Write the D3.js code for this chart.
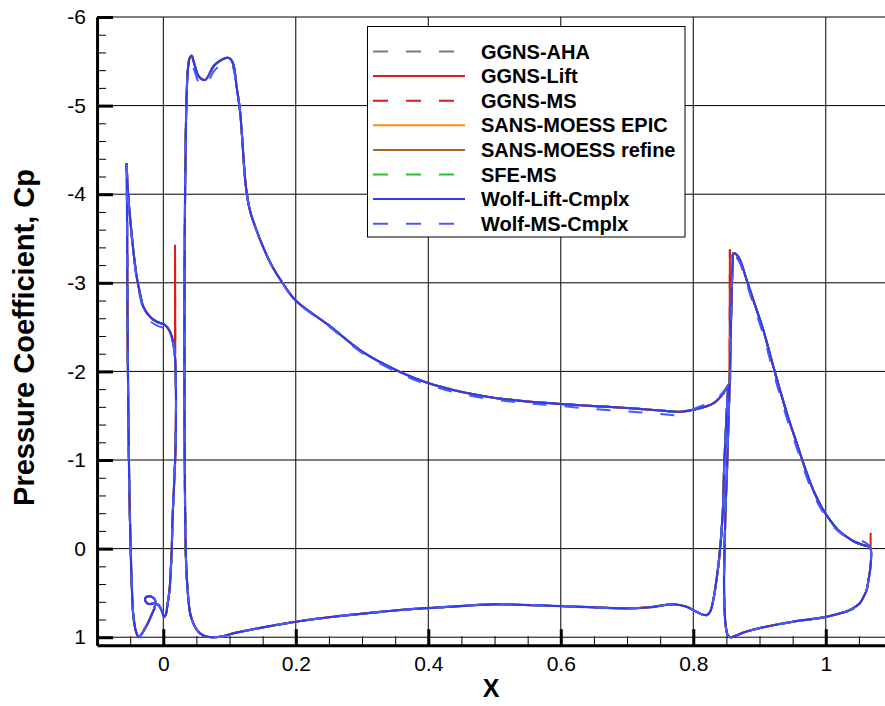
<!DOCTYPE html>
<html>
<head>
<meta charset="utf-8">
<script src="https://cdn.jsdelivr.net/npm/d3@7"></script>
<style>
  body { margin: 0; background: #fff; }
  text { font-family: "Liberation Sans", Arial, sans-serif; }
</style>
</head>
<body>
<script>
// surface pressure on the three elements (x/c, Cp)
const slatUpper = [
  [-0.0552,-4.349],[-0.0540,-4.104],[-0.0503,-3.746],[-0.0453,-3.370],[-0.0402,-3.069],
  [-0.0352,-2.881],[-0.0302,-2.730],[-0.0201,-2.617],[-0.0100,-2.561],[0.0026,-2.524],
  [0.0101,-2.448],[0.0151,-2.317],[0.0177,-2.166],[0.0192,-1.677]
];
const slatLower = [
  [0.0192,-1.677],[0.0184,-1.113],[0.0139,-0.323],[0.0127,0.016],[0.0109,0.298],[0.0094,0.467],
  [0.0063,0.636],[0.0041,0.738],[0.0011,0.772],[-0.0012,0.722],[-0.0050,0.659],[-0.0095,0.625],
  [-0.0155,0.620],[-0.0216,0.625],[-0.0261,0.603],[-0.0276,0.569],[-0.0246,0.541],[-0.0186,0.541],
  [-0.0133,0.569],[-0.0118,0.614],[-0.0133,0.670],[-0.0178,0.749],[-0.0231,0.840],[-0.0291,0.919],
  [-0.0337,0.975],[-0.0374,0.998],[-0.0405,0.953],[-0.0450,0.772],[-0.0477,0.388],[-0.0492,0.016],
  [-0.0510,-0.549],[-0.0525,-1.339],[-0.0537,-2.242],[-0.0545,-3.370],[-0.0549,-4.047],[-0.0552,-4.349]
];
const mainUpper = [
  [0.8528,-1.848],[0.8453,-1.753],[0.8302,-1.640],[0.8051,-1.576],[0.7799,-1.545],[0.7497,-1.559],
  [0.6999,-1.587],[0.6501,-1.609],[0.6003,-1.632],[0.5505,-1.660],[0.5007,-1.700],[0.4509,-1.768],
  [0.3995,-1.870],[0.3573,-1.994],[0.2999,-2.225],[0.2516,-2.510],[0.1998,-2.800],[0.1807,-2.990],
  [0.1641,-3.190],[0.1509,-3.400],[0.1399,-3.610],[0.1309,-3.814],[0.1248,-4.077],[0.1158,-4.942],
  [0.1108,-5.205],[0.1057,-5.466],[0.1014,-5.526],[0.0972,-5.541],[0.0886,-5.520],[0.0765,-5.450],
  [0.0629,-5.289],[0.0539,-5.326],[0.0463,-5.484],[0.0429,-5.563],[0.0395,-5.529],[0.0365,-5.337],
  [0.0343,-4.837],[0.0328,-3.934],[0.0320,-2.806],[0.0320,-1.677],[0.0328,-0.548],[0.0343,0.129],
  [0.0373,0.524],[0.0411,0.750],[0.0479,0.884],[0.0554,0.956],[0.0645,0.992],[0.0755,1.001]
];
const mainLower = [
  [0.0755,1.001],[0.0886,0.992],[0.1057,0.956],[0.1561,0.881],[0.1998,0.825],[0.2566,0.769],
  [0.3070,0.730],[0.3573,0.693],[0.4328,0.656],[0.5007,0.629],[0.6003,0.648],[0.6995,0.674],
  [0.7346,0.662],[0.7698,0.629],[0.7889,0.654],[0.8000,0.693],[0.8101,0.733],[0.8202,0.750],
  [0.8252,0.716],[0.8302,0.581],[0.8350,0.355],[0.8396,0.073],[0.8444,-0.398],[0.8468,-0.963],
  [0.8504,-1.527],[0.8528,-1.848]
];
const flapUpper = [
  [0.8570,1.003],[0.8525,0.986],[0.8494,0.896],[0.8472,0.693],[0.8464,0.355],[0.8472,0.016],
  [0.8487,-0.436],[0.8509,-0.887],[0.8532,-1.452],[0.8555,-2.016],[0.8570,-2.581],[0.8585,-3.032],
  [0.8595,-3.235],[0.8604,-3.333],[0.8652,-3.319],[0.8705,-3.257],[0.8806,-3.032],[0.8931,-2.750],
  [0.9057,-2.467],[0.9181,-2.129],[0.9309,-1.790],[0.9430,-1.485],[0.9561,-1.192],[0.9686,-0.910],
  [0.9811,-0.661],[0.9935,-0.470],[1.0063,-0.323],[1.0184,-0.210],[1.0315,-0.134],[1.0441,-0.075],
  [1.0566,-0.041],[1.0667,-0.022]
];
const flapLower = [
  [1.0667,-0.022],[1.0682,0.016],[1.0675,0.204],[1.0645,0.354],[1.0617,0.467],[1.0562,0.557],
  [1.0517,0.614],[1.0441,0.659],[1.0366,0.693],[1.0013,0.769],[0.9505,0.825],[0.9007,0.896],
  [0.8781,0.941],[0.8645,0.981],[0.8570,1.003]
];

// Wolf-MS-Cmplx differs a little on the upper surfaces
const wolfMsSlatUpper = [
  [-0.0552,-4.33],[-0.0540,-4.08],[-0.0503,-3.72],[-0.0450,-3.33],[-0.0400,-3.03],[-0.0350,-2.84],
  [-0.0300,-2.70],[-0.0200,-2.57],[-0.0100,-2.52],[0.0026,-2.48],[0.0101,-2.42],[0.0151,-2.30],
  [0.0177,-2.15],[0.0192,-1.677]
];
const wolfMsMainUpper = [
  [0.8528,-1.848],[0.8453,-1.77],[0.8302,-1.665],[0.8051,-1.59],[0.7799,-1.51],[0.7497,-1.52],
  [0.6999,-1.55],[0.6501,-1.575],[0.6003,-1.61],[0.5505,-1.64],[0.5007,-1.68],[0.4509,-1.745],
  [0.3995,-1.85],[0.3573,-1.975],[0.2999,-2.21],[0.2516,-2.50],[0.1998,-2.795],[0.1807,-2.99],
  [0.1641,-3.19],[0.1509,-3.40],[0.1399,-3.61],[0.1309,-3.814],[0.1248,-4.077],[0.1158,-4.93],
  [0.1108,-5.18],[0.1057,-5.42],[0.1014,-5.475],[0.0972,-5.49],[0.0886,-5.47],[0.0765,-5.39],
  [0.0629,-5.22],[0.0539,-5.26],[0.0463,-5.41],[0.0429,-5.47],[0.0395,-5.45],[0.0365,-5.30],
  [0.0343,-4.837],[0.0328,-3.934],[0.0320,-2.806],[0.0320,-1.677],[0.0328,-0.548],[0.0343,0.129],
  [0.0373,0.524],[0.0411,0.750],[0.0479,0.884],[0.0554,0.956],[0.0645,0.992],[0.0755,1.001]
];
const wolfMsFlapUpper = [
  [0.8570,1.003],[0.8525,0.986],[0.8494,0.896],[0.8472,0.693],[0.8464,0.355],[0.8472,0.016],
  [0.8487,-0.436],[0.8509,-0.887],[0.8532,-1.452],[0.8555,-2.016],[0.8570,-2.581],[0.8585,-3.00],
  [0.8595,-3.20],[0.8604,-3.27],[0.8652,-3.28],[0.8705,-3.22],[0.8806,-2.99],[0.8931,-2.70],
  [0.9057,-2.41],[0.9181,-2.07],[0.9309,-1.73],[0.9430,-1.43],[0.9561,-1.14],[0.9686,-0.86],
  [0.9811,-0.62],[0.9935,-0.44],[1.0063,-0.30],[1.0184,-0.20],[1.0315,-0.13],[1.0441,-0.10],
  [1.0566,-0.08],[1.0667,-0.03]
];

// trailing-edge spikes seen on some solutions
const ggnsSlatSpike = [[0.0177,-2.17],[0.0177,-3.42],[0.0181,-2.2]];
const ggnsMainSpike = [[0.8548,-1.85],[0.8552,-3.37],[0.8556,-1.9]];
const ggnsFlapSpike = [[1.0677,-0.02],[1.0677,-0.20]];
const sansEpicSpike = [[0.8548,-1.85],[0.8552,-2.40],[0.8556,-1.9]];
const sansRefineSpike = [[0.8548,-1.85],[0.8552,-2.32],[0.8556,-1.9]];

const seriesNames = ['GGNS-AHA','GGNS-Lift','GGNS-MS','SANS-MOESS EPIC','SANS-MOESS refine','SFE-MS','Wolf-Lift-Cmplx','Wolf-MS-Cmplx'];
const seriesColors = ['#7a7a7a','#d81c1c','#d81c1c','#ff8c1a','#b0621e','#1ec81e','#2b3cf2','#4a58ff'];
const seriesDashed = [true,false,true,false,false,true,false,true];

const base = [slatUpper, slatLower, mainUpper, mainLower, flapUpper, flapLower];
const seriesCurves = [
  base,
  base,
  base,
  base,
  base,
  base,
  base,
  [wolfMsSlatUpper, slatLower, wolfMsMainUpper, mainLower, wolfMsFlapUpper, flapLower]
];
const seriesSpikes = [
  [],
  [ggnsSlatSpike, ggnsMainSpike],
  [ggnsSlatSpike, ggnsMainSpike, ggnsFlapSpike],
  [sansEpicSpike],
  [sansRefineSpike],
  [], [], []
];

const xMajor = [0, 0.2, 0.4, 0.6, 0.8, 1];
const yMajor = [-6, -5, -4, -3, -2, -1, 0, 1];

const width = 885, height = 706;
const svg = d3.select('body').append('svg')
  .attr('width', width)
  .attr('height', height);

const x = d3.scaleLinear().domain([-0.1, 1.09]).range([97.05, 885.4]);
const y = d3.scaleLinear().domain([-6, 1.09]).range([17, 645.2]);

// grid
svg.append('g').selectAll('line')
  .data(xMajor)
  .enter().append('line')
  .attr('x1', d => x(d)).attr('x2', d => x(d))
  .attr('y1', y(-6)).attr('y2', y(1.09))
  .attr('stroke', '#000').attr('stroke-width', 1);

svg.append('g').selectAll('line')
  .data(yMajor)
  .enter().append('line')
  .attr('x1', x(-0.1)).attr('x2', x(1.09))
  .attr('y1', d => y(d)).attr('y2', d => y(d))
  .attr('stroke', '#000').attr('stroke-width', 1);

// curves
const smooth = d3.line().x(d => x(d[0])).y(d => y(d[1])).curve(d3.curveCatmullRom.alpha(0.5));
const straight = d3.line().x(d => x(d[0])).y(d => y(d[1]));
seriesCurves.forEach((curves, i) => {
  const g = svg.append('g')
    .attr('fill', 'none')
    .attr('stroke', seriesColors[i])
    .attr('stroke-width', i === 6 ? 2.2 : 2)
    .attr('stroke-dasharray', seriesDashed[i] ? '14,18' : null)
    .attr('stroke-linejoin', 'round');
  g.selectAll('path.spike')
    .data(seriesSpikes[i])
    .enter().append('path')
    .attr('class', 'spike')
    .attr('stroke-dasharray', null)
    .attr('d', straight);
  g.selectAll('path.curve')
    .data(curves)
    .enter().append('path')
    .attr('class', 'curve')
    .attr('d', smooth);
});

// axes
const xMinor = d3.range(-0.05, 1.09, 0.05).filter(v => !xMajor.some(m => Math.abs(m - v) < 1e-6));
const yMinor = d3.range(-6, 1.09, 0.2).filter(v => !yMajor.some(m => Math.abs(m - v) < 1e-6));

svg.append('g')
  .attr('transform', `translate(0,${y(1.09)})`)
  .call(d3.axisBottom(x).tickValues(xMinor).tickSize(-9).tickSizeOuter(0).tickFormat(''))
  .call(g => g.select('.domain').remove())
  .selectAll('line').attr('stroke-width', 1);

svg.append('g')
  .attr('transform', `translate(${x(-0.1)},0)`)
  .call(d3.axisLeft(y).tickValues(yMinor).tickSize(-9).tickSizeOuter(0).tickFormat(''))
  .call(g => g.select('.domain').remove())
  .selectAll('line').attr('stroke-width', 1);

const xAxis = svg.append('g')
  .attr('transform', `translate(0,${y(1.09)})`)
  .call(d3.axisBottom(x).tickValues(xMajor).tickSize(-16).tickSizeOuter(0).tickPadding(11).tickFormat(d => String(d)));
xAxis.selectAll('.tick line').attr('stroke-width', 3);
xAxis.select('.domain').attr('stroke-width', 3);
xAxis.selectAll('text').attr('font-size', 21).attr('font-family', '"Liberation Sans", Arial, sans-serif').attr('fill', '#000');

const yAxis = svg.append('g')
  .attr('transform', `translate(${x(-0.1)},0)`)
  .call(d3.axisLeft(y).tickValues(yMajor).tickSize(-16).tickSizeOuter(0).tickPadding(11).tickFormat(d => String(d)));
yAxis.selectAll('.tick line').attr('stroke-width', 3);
yAxis.select('.domain').attr('stroke-width', 3);
yAxis.selectAll('text').attr('font-size', 21).attr('font-family', '"Liberation Sans", Arial, sans-serif').attr('fill', '#000');

// axis titles
svg.append('text')
  .attr('x', 491).attr('y', 697)
  .attr('text-anchor', 'middle')
  .attr('font-size', 25).attr('font-weight', 'bold')
  .text('X');

svg.append('text')
  .attr('transform', 'translate(34,337.5) rotate(-90)')
  .attr('text-anchor', 'middle')
  .attr('font-size', 29).attr('font-weight', 'bold')
  .text('Pressure Coefficient, Cp');

// legend
const legend = svg.append('g');
legend.append('rect')
  .attr('x', 367.5).attr('y', 26.5)
  .attr('width', 317.5).attr('height', 210.5)
  .attr('fill', '#fff').attr('stroke', '#000').attr('stroke-width', 1);

const rows = legend.selectAll('g.row')
  .data(seriesNames)
  .enter().append('g')
  .attr('class', 'row')
  .attr('transform', (d, i) => `translate(0,${51.5 + i * 24.6})`);

rows.append('line')
  .attr('x1', 373).attr('x2', 465)
  .attr('stroke', (d, i) => seriesColors[i])
  .attr('stroke-width', 2)
  .attr('stroke-dasharray', (d, i) => seriesDashed[i] ? '15,18' : null);

rows.append('text')
  .attr('x', 481).attr('y', 7)
  .attr('font-size', 20).attr('font-weight', 'bold')
  .text(d => d);
</script>
</body>
</html>
